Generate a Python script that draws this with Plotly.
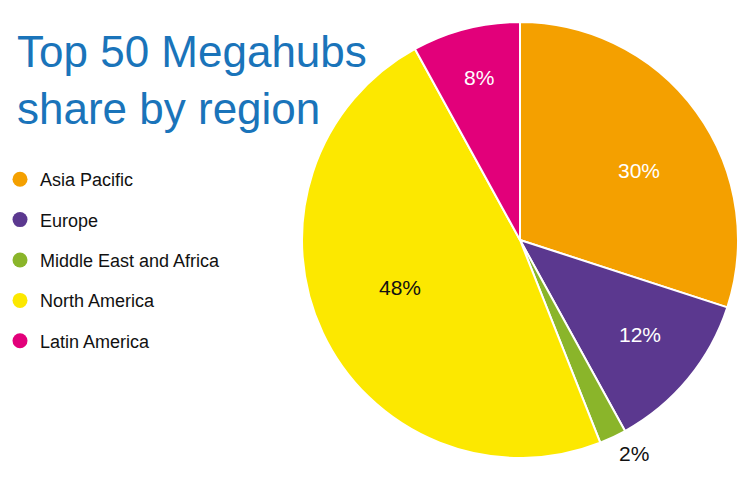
import math
import plotly.graph_objects as go

regions = ["Asia Pacific", "Europe", "Middle East and Africa", "North America", "Latin America"]
shares = [30, 12, 2, 48, 8]
colors = ["#F4A000", "#5B388F", "#8AB52A", "#FCE800", "#E2007A"]
text_colors = ["white", "white", "#111111", "#111111", "white"]
# label placement style: radius as fraction of pie radius, angle offset (deg) from slice middle
label_radius = [0.636, 0.695, 1.105, 0.593, 0.775]
label_angle_shift = [5.5, -1.7, -3.1, 3.9, 0.4]

W, H = 753, 481
CX, CY, R = 520, 240, 218  # pie centre and radius in pixels (layout)

fig = go.Figure()
fig.add_trace(go.Pie(
    labels=regions, values=shares, sort=False, direction="clockwise", rotation=0,
    marker=dict(colors=colors, line=dict(color="white", width=2)),
    textinfo="none", showlegend=False, hoverinfo="label+percent",
    domain=dict(x=[(CX - R) / W, (CX + R) / W], y=[1 - (CY + R) / H, 1 - (CY - R) / H]),
))

for name, col in zip(regions, colors):
    fig.add_trace(go.Scatter(
        x=[None], y=[None], mode="markers", name=name, legendgroup=name,
        marker=dict(symbol="circle", size=15, color=col),
    ))

annotations = [dict(
    text="Top 50 Megahubs<br>share by region", xref="paper", yref="paper",
    x=15 / W, y=1 - 25 / H, xanchor="left", yanchor="top", showarrow=False,
    align="left", font=dict(size=44, color="#1A74BA", family="Liberation Sans, Arial"),
)]

total = sum(shares)
cum = 0
for v, tc, rf, da in zip(shares, text_colors, label_radius, label_angle_shift):
    mid = (cum + v / 2) / total * 360 + da
    cum += v
    px = CX + R * rf * math.sin(math.radians(mid))
    py = CY - R * rf * math.cos(math.radians(mid))
    annotations.append(dict(
        text=f"{round(v / total * 100)}%", xref="paper", yref="paper",
        x=px / W, y=1 - (py + 1) / H, xanchor="center", yanchor="middle",
        showarrow=False, font=dict(size=21, color=tc, family="Liberation Sans, Arial"),
    ))

fig.update_layout(
    width=W, height=H, margin=dict(l=0, r=0, t=0, b=0),
    paper_bgcolor="white", plot_bgcolor="white",
    xaxis=dict(visible=False), yaxis=dict(visible=False),
    font=dict(family="Liberation Sans, Arial"),
    legend=dict(x=0.0, y=1 - 161 / H, xanchor="left", yanchor="top",
                font=dict(size=18, color="#111111"), tracegroupgap=14,
                itemclick=False, bgcolor="rgba(0,0,0,0)"),
    annotations=annotations,
)

fig.write_html("out.html")
